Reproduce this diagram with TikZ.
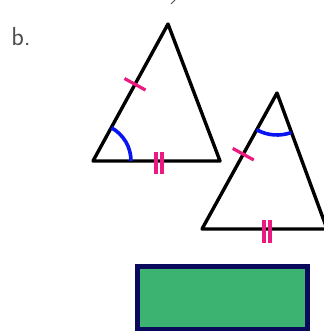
\documentclass[tikz,border=0pt]{standalone}
\usepackage{xcolor}
\usepackage{tikz}
\usetikzlibrary{calc}

\definecolor{tickpink}{HTML}{EC1A80}
\definecolor{arcblue}{HTML}{0A14F0}
\definecolor{boxgreen}{HTML}{3DB371}
\definecolor{boxnavy}{HTML}{0A0A5C}

\begin{document}
\begin{tikzpicture}[x=1pt, y=1pt,
    side/.style={draw, line width=3.4pt, line join=round, line cap=round},
    tick/.style={draw=tickpink, line width=3.2pt},
    angmark/.style={draw=arcblue, line width=3.6pt},
]
\useasboundingbox (0,0) rectangle (323,331);

% Label
\node[text=black!70, font=\fontsize{26}{26}\sffamily] (lab) at (21,294) {b.};
\draw[black!70, line width=1pt] (171,327) -- (175,331);

% First triangle
\coordinate (A1) at (93,170);
\coordinate (B1) at (220,170);
\coordinate (C1) at (168,307);
\draw[side] (A1) -- (B1) -- (C1) -- cycle;

% Second triangle (runs off the right edge)
\coordinate (A2) at (202,102);
\coordinate (B2) at (327,102);
\coordinate (C2) at (277,238);
\draw[side] (A2) -- (B2) -- (C2) -- cycle;

% Equal sides: single ticks
\path (A1) -- (C1) coordinate[pos=0.56] (t1);
\path (A2) -- (C2) coordinate[pos=0.55] (t2);
\draw[tick] ($(t1)!12pt!90:(C1)$) -- ($(t1)!12pt!-90:(C1)$);
\draw[tick] ($(t2)!12pt!90:(C2)$) -- ($(t2)!12pt!-90:(C2)$);

% Equal bases: double ticks
\draw[tick] (156,179) -- (156,157);
\draw[tick] (162,179) -- (162,157);
\draw[tick] (264,111) -- (264,88);
\draw[tick] (270,111) -- (270,88);

% Equal angles
\draw[angmark] (A1) ++(38,0) arc[start angle=0, end angle=61, radius=38];
\draw[angmark] (C2) ++(241:42) arc[start angle=241, end angle=290, radius=42];

% Box below
\draw[boxnavy, fill=boxgreen, line width=4.5pt] (137.5,1.5) rectangle (307.5,64.5);

\end{tikzpicture}
\end{document}
